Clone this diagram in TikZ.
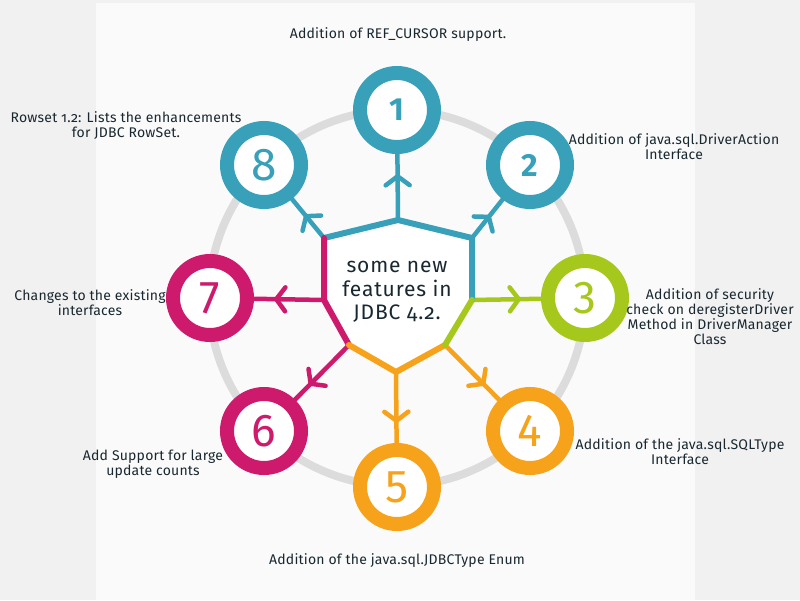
\documentclass[tikz,border=0pt]{standalone}
\usepackage{xcolor}
\usepackage{fontspec}
\setmainfont{Fira Sans}[Numbers=OldStyle]
\newfontfamily\digitfont{Fira Sans}
\usepackage{tikz}
\usetikzlibrary{arrows.meta, decorations.markings, backgrounds}
\definecolor{myteal}{RGB}{56,160,185}
\definecolor{mygreen}{RGB}{166,200,28}
\definecolor{myorange}{RGB}{247,162,27}
\definecolor{mymagenta}{RGB}{205,26,109}
\definecolor{myring}{RGB}{220,220,220}
\definecolor{mytext}{RGB}{25,40,48}
\definecolor{bgouter}{RGB}{241,241,241}
\definecolor{bgpanel}{RGB}{250,250,250}
\tikzset{
  ring/.style={circle, draw=#1, fill=white, line width=14pt,
    minimum size=74pt, inner sep=0pt, text=#1,
    font=\digitfont\fontsize{46}{46}\selectfont},
  smallring/.style={ring=#1,
    font=\digitfont\bfseries\fontsize{32}{32}\selectfont},
  featarrow/.style={line width=4.5pt, color=#1, shorten >=-4pt,
    postaction=decorate, decoration={markings,
      mark=at position -20pt with {\arrow{Straight Barb[length=9pt, width=24pt, round]}}}},
  shieldedge/.style={line width=6pt, color=#1, line cap=round, line join=round},
  featlabel/.style={align=center, text=mytext,
    font=\fontsize{14}{15}\selectfont\addfontfeatures{LetterSpace=1.5}},
  coretext/.style={align=center, text=mytext,
    font=\fontsize{21}{23.5}\selectfont\addfontfeatures{LetterSpace=4}}
}

\begin{document}
\begin{tikzpicture}[x=1pt, y=-1pt]
  \useasboundingbox (0,0) rectangle (800,600);

  % Shield corners
  \coordinate (hub) at (397,298);
  \coordinate (sP) at (398,220);
  \coordinate (sTR) at (472,238);
  \coordinate (sRR) at (472,300);
  \coordinate (sBR) at (445,345);
  \coordinate (sB) at (396,372);
  \coordinate (sBL) at (349,345);
  \coordinate (sLL) at (324,300);
  \coordinate (sTL) at (324,238);

  % Feature circles
  \node[smallring=myteal] (c1) at (397,110) {1};
  \node[smallring=myteal] (c2) at (530,165) {2};
  \node[ring=mygreen] (c3) at (585,298) {3};
  \node[ring=myorange] (c4) at (530,431) {4};
  \node[ring=myorange] (c5) at (397,487) {5};
  \node[ring=mymagenta] (c6) at (264,431) {6};
  \node[ring=mymagenta] (c7) at (210,298) {7};
  \node[ring=myteal] (c8) at (264,165) {8};

  % Shield
  \fill[white] (sP) -- (sTR) -- (sRR) -- (sBR) -- (sB) -- (sBL) -- (sLL) -- (sTL) -- cycle;
  \draw[shieldedge=myteal] (sRR) -- (sTR) -- (sP) -- (sTL);
  \draw[shieldedge=mymagenta] (sTL) -- (sLL) -- (sBL);
  \draw[shieldedge=myorange] (sBL) -- (sB) -- (sBR);
  \draw[shieldedge=mygreen] (sBR) -- (sRR);
  \node[coretext] (core) at (397,292) {some new\\features in\\JDBC 4.2.};

  % Background, gray ring and arrows behind everything
  \begin{pgfonlayer}{background}
    \fill[bgouter] (0,0) rectangle (800,600);
    \fill[bgpanel] (96,3) rectangle (695,600);
    \draw[myring, line width=8pt] (hub) circle[radius=188];
    \draw[featarrow=myteal] (sP) -- (c1);
    \draw[featarrow=myteal] (sTR) -- (c2);
    \draw[featarrow=mygreen] (sRR) -- (c3);
    \draw[featarrow=myorange] (sBR) -- (c4);
    \draw[featarrow=myorange] (sB) -- (c5);
    \draw[featarrow=mymagenta] (sBL) -- (c6);
    \draw[featarrow=mymagenta] (sLL) -- (c7);
    \draw[featarrow=myteal] (sTL) -- (c8);
  \end{pgfonlayer}

  % Feature labels
  \node[featlabel] (l1) at (398,35) {Addition of REF\_CURSOR support.};
  \node[featlabel] (l2) at (674,147) {Addition of java.sql.DriverAction\\Interface};
  \node[featlabel] (l3) at (710,317) {Addition of security\\check on deregisterDriver\\Method in DriverManager\\Class};
  \node[featlabel] (l4) at (680,452) {Addition of the java.sql.SQLType\\Interface};
  \node[featlabel] (l5) at (397,561) {Addition of the java.sql.JDBCType Enum};
  \node[featlabel] (l6) at (153,464) {Add Support for large\\update counts};
  \node[featlabel] (l7) at (90,303) {Changes to the existing\\interfaces};
  \node[featlabel] (l8) at (126,125) {Rowset 1.2: Lists the enhancements\\for JDBC RowSet.};
\end{tikzpicture}
\end{document}
